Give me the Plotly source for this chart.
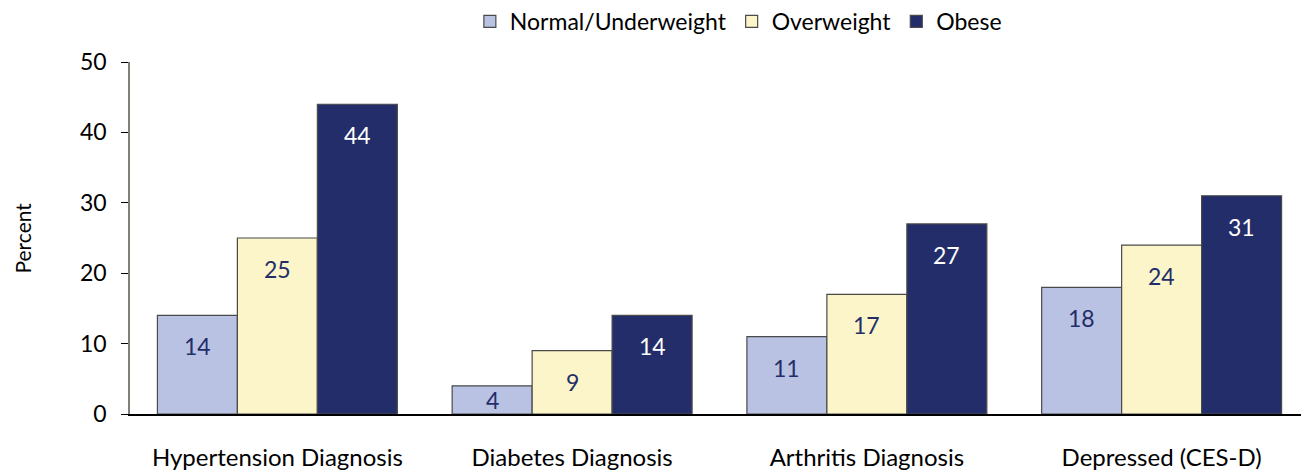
import plotly.graph_objects as go

categories = ["Hypertension Diagnosis", "Diabetes Diagnosis", "Arthritis Diagnosis", "Depressed (CES-D)"]
series_names = ["Normal/Underweight", "Overweight", "Obese"]
normal_vals = [14, 4, 11, 18]
overweight_vals = [25, 9, 17, 24]
obese_vals = [44, 14, 27, 31]
y_ticks = [0, 10, 20, 30, 40, 50]

colors = ["#B9C2E2", "#FBF5C9", "#232D69"]
text_colors = ["#232D69", "#232D69", "#FFFFFF"]
FONT = "Lato"

fig = go.Figure()
all_vals = [normal_vals, overweight_vals, obese_vals]
for name, vals, col in zip(series_names, all_vals, colors):
    fig.add_trace(go.Bar(
        x=categories, y=vals, name=name,
        marker=dict(color=col, line=dict(color="#4a4a4a", width=1.2)),
    ))

annotations = []
for i, (vals, tc) in enumerate(zip(all_vals, text_colors)):
    for c, v in zip(categories, vals):
        annotations.append(dict(
            x=c, y=max(v - 4.4, v / 2), xref="x", yref="y",
            text=str(v), showarrow=False, xshift=(i - 1) * 80,
            font=dict(family=FONT, size=23, color=tc),
        ))
annotations.append(dict(
    x=-0.092, y=0.5, xref="paper", yref="paper", text="Percent",
    xanchor="center", yanchor="middle",
    textangle=-90, showarrow=False, font=dict(family=FONT, size=21, color="#000")
))

fig.update_layout(
    width=1301, height=466,
    margin=dict(l=122, r=0, t=54, b=60, autoexpand=False),
    paper_bgcolor="white", plot_bgcolor="white",
    barmode="group", bargap=0.186, bargroupgap=0,
    font=dict(family=FONT, size=24, color="#000"),
    legend=dict(orientation="h", x=0.516, xanchor="center", y=1.115, yanchor="middle",
                font=dict(family=FONT, size=23), itemwidth=30, tracegroupgap=0),
    annotations=annotations,
    showlegend=True,
)
fig.update_xaxes(
    showline=True, linecolor="#000", linewidth=1.5, ticks="",
    tickfont=dict(family=FONT, size=24), ticklabelstandoff=21,
    showgrid=False,
)
fig.update_yaxes(
    range=[0, 50], tickvals=y_ticks, showgrid=False, zeroline=False,
    showline=True, linecolor="#808078", linewidth=1.5,
    ticks="outside", ticklen=7, tickcolor="#000", tickwidth=1,
    tickfont=dict(family=FONT, size=23), ticklabelstandoff=10,
)

fig.write_html("out.html")
